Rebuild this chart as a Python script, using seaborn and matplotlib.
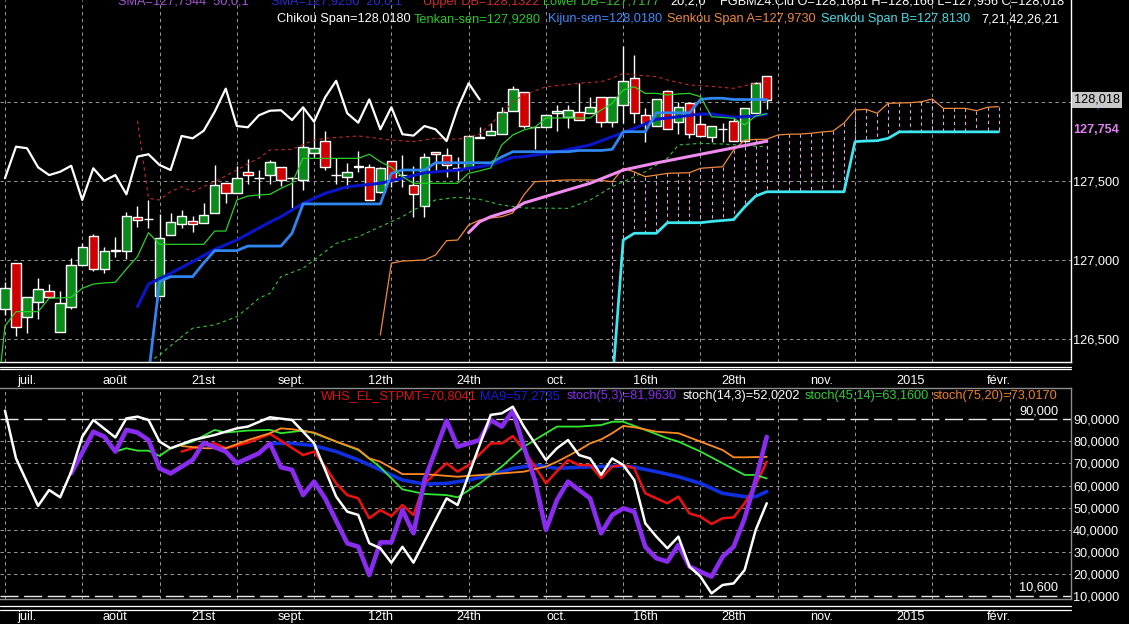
import numpy as np
import pandas as pd
import matplotlib
matplotlib.use("Agg")
import matplotlib.pyplot as plt
from matplotlib.lines import Line2D
import seaborn as sns

W, H = 1129, 624

# ---------------- price panel : FGBMZ4 daily bars (points) ----------------
bar_open = [126.688, 126.980, 126.641, 126.732, 126.806, 126.546, 126.701, 126.969, 127.155, 126.942,
            127.060, 127.060, 127.275, 127.261, 126.772, 127.159, 127.229, 127.250, 127.233, 127.297,
            127.491, 127.423, 127.557, 127.519, 127.539, 127.592, 127.519, 127.508, 127.681, 127.755,
            127.539, 127.529, 127.588, 127.588, 127.430, 127.630, 127.539, 127.476, 127.343, 127.687,
            127.666, 127.582, 127.582, 127.782, 127.793, 127.799, 127.945, 128.068, 127.842, 127.842,
            127.934, 127.909, 127.941, 127.931, 128.036, 127.877, 127.983, 128.153, 127.920, 127.850,
            128.072, 127.877, 127.998, 127.861, 127.782, 127.829, 127.882, 127.755, 127.931, 128.168]
bar_high = [126.861, 126.980, 126.768, 126.885, 126.848, 126.804, 127.011, 127.110, 127.165, 127.081,
            127.148, 127.307, 127.345, 127.381, 127.292, 127.300, 127.318, 127.280, 127.360, 127.601,
            127.491, 127.597, 127.641, 127.571, 127.635, 127.592, 127.525, 127.962, 127.867, 127.820,
            127.645, 127.617, 127.694, 127.609, 127.592, 127.630, 127.666, 127.597, 127.677, 127.687,
            127.709, 127.652, 127.787, 127.846, 127.867, 127.973, 128.104, 128.068, 127.848, 127.918,
            127.983, 127.983, 128.125, 128.032, 128.036, 128.032, 128.357, 128.300, 127.962, 128.019,
            128.078, 128.000, 127.998, 127.926, 127.850, 127.867, 127.905, 127.962, 128.131, 128.170]
bar_low = [126.652, 126.519, 126.540, 126.625, 126.764, 126.546, 126.688, 126.969, 126.933, 126.920,
           127.022, 127.007, 127.212, 127.202, 126.772, 127.159, 127.202, 127.180, 127.233, 127.297,
           127.364, 127.423, 127.482, 127.392, 127.482, 127.470, 127.328, 127.444, 127.656, 127.571,
           127.482, 127.455, 127.560, 127.381, 127.423, 127.465, 127.465, 127.275, 127.275, 127.560,
           127.529, 127.508, 127.582, 127.772, 127.793, 127.799, 127.945, 127.837, 127.702, 127.842,
           127.820, 127.836, 127.888, 127.931, 127.842, 127.846, 127.871, 127.871, 127.751, 127.850,
           127.829, 127.799, 127.772, 127.789, 127.751, 127.751, 127.755, 127.755, 127.931, 127.956]
bar_close = [126.825, 126.578, 126.768, 126.819, 126.764, 126.730, 126.971, 127.081, 126.942, 127.060,
             127.062, 127.281, 127.254, 127.261, 127.142, 127.243, 127.281, 127.229, 127.284, 127.474,
             127.423, 127.519, 127.538, 127.519, 127.620, 127.508, 127.519, 127.719, 127.709, 127.588,
             127.539, 127.560, 127.598, 127.381, 127.582, 127.503, 127.539, 127.417, 127.656, 127.671,
             127.603, 127.571, 127.787, 127.772, 127.820, 127.941, 128.087, 127.850, 127.842, 127.918,
             127.947, 127.950, 127.888, 127.969, 127.877, 128.032, 128.137, 127.931, 127.871, 128.019,
             127.829, 127.969, 127.798, 127.789, 127.850, 127.829, 127.755, 127.962, 128.121, 128.018]

# Ichimoku lines (7,21,42,26,21), one value per bar from the start index
tenkan_start = -1
tenkan = [125.930, 126.582, 126.673, 126.673, 126.673, 126.758, 126.760, 126.764, 126.821, 126.848,
          126.855, 126.859, 126.944, 127.022, 127.174, 127.100, 127.100, 127.100, 127.100, 127.100,
          127.184, 127.184, 127.381, 127.406, 127.413, 127.417, 127.455, 127.487, 127.645, 127.645,
          127.645, 127.645, 127.645, 127.645, 127.671, 127.624, 127.588, 127.529, 127.487, 127.487,
          127.487, 127.487, 127.487, 127.550, 127.566, 127.584, 127.730, 127.793, 127.825, 127.842,
          127.901, 127.901, 127.901, 127.901, 127.901, 127.952, 127.994, 128.078, 128.099, 128.057,
          128.057, 128.047, 128.053, 128.057, 128.036, 127.909, 127.904, 127.899, 127.857, 127.914,
          127.928]
kijun_start = 13
kijun = [126.272, 126.863, 126.895, 126.895, 126.895, 126.982, 127.060, 127.060, 127.060, 127.089,
         127.089, 127.089, 127.089, 127.170, 127.356, 127.356, 127.356, 127.356, 127.356, 127.356,
         127.356, 127.356, 127.550, 127.571, 127.571, 127.571, 127.617, 127.617, 127.617, 127.617,
         127.617, 127.617, 127.654, 127.687, 127.687, 127.687, 127.687, 127.687, 127.687, 127.695,
         127.695, 127.695, 127.702, 127.814, 127.814, 127.814, 127.934, 127.934, 127.934, 127.934,
         128.019, 128.026, 128.026, 128.018, 128.018, 128.018, 128.018]
senkou_a_start = 34
senkou_a = [126.525, 126.980, 126.994, 126.997, 127.001, 127.032, 127.123, 127.127, 127.222, 127.254,
            127.267, 127.275, 127.299, 127.413, 127.497, 127.501, 127.505, 127.508, 127.508, 127.508,
            127.505, 127.497, 127.582, 127.559, 127.529, 127.539, 127.550, 127.552, 127.554, 127.582,
            127.587, 127.592, 127.698, 127.761, 127.765, 127.766, 127.793, 127.798, 127.799, 127.804,
            127.812, 127.818, 127.869, 127.952, 127.956, 127.931, 127.994, 127.996, 127.998, 128.004,
            128.021, 127.962, 127.962, 127.962, 127.947, 127.969, 127.973]
senkou_b_start = 55
senkou_b = [126.202, 127.127, 127.170, 127.170, 127.170, 127.237, 127.237, 127.237, 127.237, 127.245,
            127.251, 127.257, 127.337, 127.406, 127.433, 127.433, 127.433, 127.433, 127.433, 127.433,
            127.433, 127.433, 127.751, 127.755, 127.757, 127.772, 127.813, 127.813, 127.813, 127.813,
            127.813, 127.813, 127.813, 127.813, 127.813, 127.813]
chikou_shift = 26

# moving averages and DB bands, read at their vertices (bar, value)
sma20_x = [12, 13, 15, 17, 19, 21, 24, 25, 27, 29, 31, 34, 36, 38, 41, 44, 46, 47, 50, 53, 55, 57, 59, 61, 63, 64, 66, 68, 69]
sma20_y = [126.705, 126.848, 126.916, 126.990, 127.068, 127.127, 127.241, 127.275, 127.360, 127.423,
           127.465, 127.487, 127.519, 127.554, 127.571, 127.603, 127.652, 127.656, 127.687, 127.730,
           127.782, 127.835, 127.893, 127.909, 127.926, 127.926, 127.905, 127.914, 127.925]
sma50_x = [42, 43, 44, 46, 47, 50, 53, 56, 59, 62, 65, 69]
sma50_y = [127.174, 127.243, 127.275, 127.318, 127.362, 127.425, 127.487, 127.571, 127.616, 127.657, 127.698, 127.754]
upper_db_x = [12, 13, 14, 15, 16, 17, 19, 21, 22, 23, 24, 26, 28, 29, 32, 35, 37, 39, 41, 42, 43, 44, 45,
              46, 47, 49, 52, 54, 55, 56, 57, 59, 60, 62, 64, 66, 68, 69]
upper_db_y = [127.882, 127.392, 127.381, 127.434, 127.465, 127.434, 127.497, 127.571, 127.609, 127.647,
              127.698, 127.702, 127.761, 127.772, 127.787, 127.761, 127.751, 127.772, 127.766, 127.782,
              127.799, 127.863, 127.926, 128.004, 128.047, 128.099, 128.121, 128.131, 128.153, 128.184,
              128.174, 128.163, 128.142, 128.110, 128.101, 128.089, 128.121, 128.132]
lower_db_x = [13, 14, 15, 16, 17, 19, 21, 22, 23, 24, 25, 27, 28, 30, 32, 34, 36, 37, 38, 39, 41, 43, 45,
              47, 51, 53, 55, 58, 60, 61, 63, 65, 69]
lower_db_y = [126.354, 126.398, 126.456, 126.514, 126.568, 126.589, 126.641, 126.696, 126.758, 126.789,
              126.895, 126.948, 127.001, 127.106, 127.148, 127.212, 127.275, 127.318, 127.349, 127.381,
              127.398, 127.385, 127.349, 127.330, 127.328, 127.381, 127.465, 127.560, 127.645, 127.730,
              127.740, 127.736, 127.718]

date_pos = [2, 10, 18, 26, 34, 42, 50, 58, 66, 74, 82, 90]
date_labels = ["juil.", "août", "21st", "sept.", "12th", "24th", "oct.", "16th", "28th", "nov.", "2015", "févr."]
price_ticks = [126.5, 127.0, 127.5, 128.0]
price_labels = ["126,500", "127,000", "127,500", ""]

# ---------------- oscillator panel ----------------
stoch14_x = [0, 1, 3, 4, 5, 6, 7, 8, 10, 11, 12, 13, 14, 15, 17, 19, 21, 22, 24, 26, 28, 29, 30, 31, 32,
             33, 34, 35, 36, 37, 40, 41, 44, 45, 46, 47, 49, 50, 51, 52, 53, 54, 55, 56, 57, 58, 59, 60,
             61, 62, 63, 64, 65, 66, 67, 68, 69]
stoch14_y = [93.9, 72.3, 50.8, 58.0, 54.7, 66.3, 82.1, 89.7, 81.8, 90.4, 91.2, 89.7, 79.9, 76.9, 80.6,
             82.9, 85.9, 86.7, 90.9, 89.7, 79.1, 67.1, 55.0, 48.2, 46.7, 33.9, 31.6, 25.1, 32.3, 25.1,
             54.2, 51.2, 92.0, 92.7, 95.7, 86.7, 71.6, 76.9, 80.6, 73.8, 72.3, 64.8, 72.3, 69.3, 62.5,
             42.9, 36.9, 31.6, 36.9, 23.3, 18.8, 11.2, 15.0, 15.7, 21.8, 39.9, 52.0]
stoch5_x = [6, 8, 9, 10, 11, 12, 13, 14, 15, 17, 18, 20, 21, 23, 24, 25, 26, 27, 28, 29, 31, 32, 33, 34,
            35, 36, 37, 38, 40, 41, 43, 44, 45, 46, 47, 48, 49, 50, 51, 52, 53, 54, 55, 56, 57, 58, 59,
            60, 61, 62, 63, 64, 65, 66, 67, 68, 69]
stoch5_y = [65.5, 84.4, 82.1, 75.4, 85.2, 84.0, 80.6, 67.8, 65.5, 71.6, 79.4, 75.4, 70.1, 74.6, 79.1,
            68.3, 67.1, 55.7, 61.8, 54.2, 33.9, 32.3, 19.5, 34.3, 34.3, 48.9, 38.4, 62.5, 89.4, 77.6,
            80.6, 89.7, 86.7, 93.9, 77.6, 62.5, 39.9, 53.5, 61.8, 58.0, 54.2, 38.4, 46.7, 49.7, 48.2,
            32.3, 27.1, 25.6, 33.1, 23.3, 21.0, 18.8, 27.8, 32.3, 45.2, 62.5, 82.0]
stpmt_x = [16, 18, 19, 20, 22, 24, 25, 27, 28, 29, 30, 31, 32, 33, 34, 35, 36, 37, 38, 40, 41, 42, 44,
           45, 46, 47, 48, 49, 50, 51, 52, 53, 54, 55, 56, 57, 58, 59, 60, 61, 62, 63, 64, 65, 66, 67,
           68, 69]
stpmt_y = [75.4, 78.4, 79.1, 76.9, 79.4, 83.4, 80.3, 73.8, 75.4, 68.6, 61.0, 55.7, 54.2, 45.2, 48.9,
           46.2, 51.2, 46.7, 61.0, 70.1, 66.3, 69.3, 79.1, 79.1, 82.4, 76.1, 68.6, 61.0, 66.5, 71.6,
           69.3, 69.3, 63.3, 68.6, 69.3, 67.8, 56.5, 54.2, 52.0, 55.0, 47.4, 45.9, 42.6, 45.2, 45.6,
           52.0, 60.3, 70.8]
ma9_x = [24, 26, 28, 30, 32, 34, 36, 38, 40, 42, 44, 46, 48, 50, 52, 54, 56, 57, 59, 61, 63, 65, 67, 68, 69]
ma9_y = [79.1, 79.1, 78.1, 75.4, 71.6, 67.1, 62.5, 60.7, 61.0, 62.5, 64.8, 67.8, 69.3, 67.8, 68.3,
         68.6, 68.9, 68.3, 66.3, 64.0, 61.0, 56.5, 55.0, 55.0, 57.3]
stoch45_x = [10, 11, 12, 13, 14, 15, 17, 19, 20, 22, 24, 25, 27, 28, 30, 32, 34, 36, 38, 40, 41, 43, 45,
             47, 49, 50, 52, 54, 55, 56, 58, 60, 61, 63, 65, 67, 68, 69]
stoch45_y = [75.4, 76.9, 75.8, 75.8, 73.4, 76.9, 79.9, 85.2, 84.0, 84.9, 85.2, 83.7, 84.9, 83.7, 79.9,
             76.1, 68.3, 58.3, 56.2, 55.7, 54.7, 61.0, 68.6, 77.6, 83.7, 86.7, 86.7, 87.4, 88.9, 88.9,
             85.2, 81.4, 79.9, 75.4, 70.1, 64.8, 64.8, 63.2]
stoch75_x = [16, 18, 19, 20, 22, 24, 25, 26, 28, 30, 32, 33, 34, 36, 38, 41, 45, 47, 49, 50, 51, 52, 53,
             54, 55, 56, 57, 59, 61, 63, 65, 66, 67, 69]
stoch75_y = [77.9, 76.9, 76.9, 76.9, 80.6, 83.7, 85.9, 85.5, 84.0, 79.9, 76.4, 72.3, 70.8, 65.2, 65.2,
             64.0, 65.5, 66.3, 68.6, 70.8, 73.4, 76.1, 79.1, 80.9, 83.7, 87.0, 86.4, 84.4, 83.7, 79.9,
             76.1, 72.8, 72.8, 73.0]
osc_ticks = [10, 20, 30, 40, 50, 60, 70, 80, 90]
osc_labels = ["10,0000", "20,0000", "30,0000", "40,0000", "50,0000", "60,0000", "70,0000", "80,0000", "90,0000"]

# ---------------- styling ----------------
sns.set_theme(style="dark", rc={"axes.facecolor": "black", "figure.facecolor": "black"})
plt.rcParams["font.family"] = ["Liberation Sans", "DejaVu Sans"]
fs = 9.2
grid_kw = dict(color="#9a9a9a", lw=0.7, linestyle=(0, (3.5, 3.5)), zorder=1)

fig = plt.figure(figsize=(W / 100, H / 100), dpi=100)
fig.patch.set_facecolor("black")


def fx(px):
    return px / W


def fy(py):
    return 1 - py / H


ax1 = fig.add_axes([0, fy(361.5), 1071 / W, 361.5 / H])
ax2 = fig.add_axes([0, fy(598.5), 1071 / W, (598.5 - 388) / H])
for ax in (ax1, ax2):
    ax.set_facecolor("black")
    ax.set_xlim(-0.45, 96.56)
    for v in range(0, 92, 7):
        ax.axvline(v, **grid_kw)

# ---- candles ----
o = np.array(bar_open)
hi = np.array(bar_high)
lo = np.array(bar_low)
c = np.array(bar_close)
idx = np.arange(len(o))
up = c >= o
ax1.vlines(idx, lo, hi, color="white", lw=1, zorder=2)
ax1.bar(idx, np.abs(c - o), bottom=np.minimum(o, c), width=0.86,
        color=np.where(up, "#0b8a1c", "#d00000"), edgecolor="white", linewidth=1, zorder=3)

for v in price_ticks:
    ax1.axhline(v, **grid_kw)

# cloud hatching
a_ser = pd.Series(senkou_a, index=range(senkou_a_start, senkou_a_start + len(senkou_a)))
b_ser = pd.Series(senkou_b, index=range(senkou_b_start, senkou_b_start + len(senkou_b)))
both = pd.concat([a_ser, b_ser], axis=1).dropna()
ax1.vlines(both.index, both[0], both[1], color="#e6a0e6", lw=0.8, linestyles=(0, (3, 3)), zorder=2)


def line(ax, xs, ys, color, lw, z, **kw):
    sns.lineplot(x=np.asarray(xs, dtype=float), y=np.asarray(ys, dtype=float), ax=ax,
                 color=color, linewidth=lw, estimator=None, zorder=z, **kw)


line(ax1, lower_db_x, lower_db_y, "#2ec82e", 0.8, 4, linestyle=(0, (3, 3)))
line(ax1, upper_db_x, upper_db_y, "#c82828", 0.8, 4, linestyle=(0, (3, 3)))
line(ax1, a_ser.index, a_ser.values, "#f0883c", 0.9, 4)
line(ax1, b_ser.index, b_ser.values, "#3ee6ee", 2.0, 5)
line(ax1, sma50_x, sma50_y, "#f08cf0", 2.2, 5)
line(ax1, sma20_x, sma20_y, "#0a14c8", 2.2, 6)
line(ax1, range(kijun_start, kijun_start + len(kijun)), kijun, "#2f86f0", 2.0, 6)
line(ax1, range(tenkan_start, tenkan_start + len(tenkan)), tenkan, "#2ad02a", 0.9, 7)
chikou = pd.Series(bar_close).shift(-chikou_shift).dropna()
line(ax1, chikou.index, chikou.values, "white", 1.6, 7)

ax1.set_ylim(126.357, 128.649)
ax1.set_xticks(date_pos)
ax1.set_xticklabels(date_labels)
ax1.yaxis.tick_right()
ax1.set_yticks(price_ticks)
ax1.set_yticklabels(price_labels)
ax1.tick_params(axis="x", length=0, pad=9.5, labelcolor="white", labelsize=fs)
ax1.tick_params(axis="y", length=0, pad=1.5, labelcolor="white", labelsize=fs)
ax1.set_xlabel("")
ax1.set_ylabel("")
for s in ("left", "top"):
    ax1.spines[s].set_visible(False)
for s in ("right", "bottom"):
    ax1.spines[s].set_color("white")
    ax1.spines[s].set_linewidth(1)

# ---- oscillator panel ----
for v in osc_ticks[1:-1]:
    ax2.axhline(v, **grid_kw)
for v in (osc_ticks[0], osc_ticks[-1]):
    ax2.axhline(v, color="#e8e8e8", lw=1, linestyle=(0, (13, 4)), zorder=1)

line(ax2, ma9_x, ma9_y, "#1030e0", 2.6, 3)
line(ax2, stpmt_x, stpmt_y, "#ee1111", 1.8, 4)
line(ax2, stoch45_x, stoch45_y, "#30e830", 1.3, 4)
line(ax2, stoch75_x, stoch75_y, "#ff8c20", 1.3, 4)
line(ax2, stoch5_x, stoch5_y, "#8a2cf0", 3.3, 5)
line(ax2, stoch14_x, stoch14_y, "white", 1.8, 6)

ax2.set_ylim(8.88, 104.17)
ax2.set_xticks(date_pos)
ax2.set_xticklabels(date_labels)
ax2.yaxis.tick_right()
ax2.set_yticks(osc_ticks)
ax2.set_yticklabels(osc_labels)
ax2.tick_params(axis="x", length=0, pad=9, labelcolor="white", labelsize=fs)
ax2.tick_params(axis="y", length=0, pad=1.5, labelcolor="white", labelsize=fs)
ax2.set_xlabel("")
ax2.set_ylabel("")
ax2.spines["left"].set_visible(False)
for s in ("right", "bottom", "top"):
    ax2.spines[s].set_color("#8c8c8c")
    ax2.spines[s].set_linewidth(1)

# double rules under each panel
for py in (366.5, 368.8, 606.3, 609.6):
    fig.add_artist(Line2D([0, fx(1071)], [fy(py), fy(py)], color="white", lw=0.9))

# ---- header texts ----
head1 = [("SMA=127,7544  50,0,1", 118, "#a855d8"), ("SMA=127,9250  20,0,1", 271, "#2a2ad8"),
         ("Upper DB=128,1322", 423, "#d42a2a"), ("Lower DB=127,7177", 543, "#2ac82a"),
         ("20,2,0", 670, "white"), ("FGBMZ4.Cld O=128,1681 H=128,166 L=127,956 C=128,018", 720, "white")]
head2 = [("Chikou Span=128,0180", 277, "white"), ("Tenkan-sen=127,9280", 414, "#22cc22"),
         ("Kijun-sen=128,0180", 548, "#3b8cff"), ("Senkou Span A=127,9730", 667, "#f0883c"),
         ("Senkou Span B=127,8130", 821, "#44e0e8"), ("7,21,42,26,21", 981, "white")]
head3 = [("WHS_EL_STPMT=70,8041", 321, "#e01010"), ("MA9=57,2735", 480, "#1a1ae0"),
         ("stoch(5,3)=81,9630", 567, "#8a2cf0"), ("stoch(14,3)=52,0202", 683, "white"),
         ("stoch(45,14)=63,1600", 805, "#30d030"), ("stoch(75,20)=73,0170", 933, "#f08020")]
for rows, py in ((head1, 1.5), (head2, 19), (head3, 396.5)):
    for txt, px, col in rows:
        fig.text(fx(px), fy(py), txt, color=col, fontsize=fs, ha="left", va="center")

fig.text(fx(1058), fy(411), "90,000", color="white", fontsize=fs, ha="right", va="center")
fig.text(fx(1058), fy(587), "10,600", color="white", fontsize=fs, ha="right", va="center")

# right-hand value markers
fig.text(fx(1075), fy(105), "127,925", color="#1a3cff", fontsize=fs, fontweight="bold",
         ha="left", va="center", zorder=4)
fig.text(fx(1074), fy(100), "128,018", color="black", fontsize=fs, ha="left", va="center", zorder=6,
         bbox=dict(boxstyle="square,pad=0.12", fc="#c8c8c8", ec="none"))
fig.text(fx(1073), fy(130), "127,754", color="#e07ef0", fontsize=fs, fontweight="bold",
         ha="left", va="center", zorder=4)

fig.savefig("out.png", dpi=100, facecolor="black")
